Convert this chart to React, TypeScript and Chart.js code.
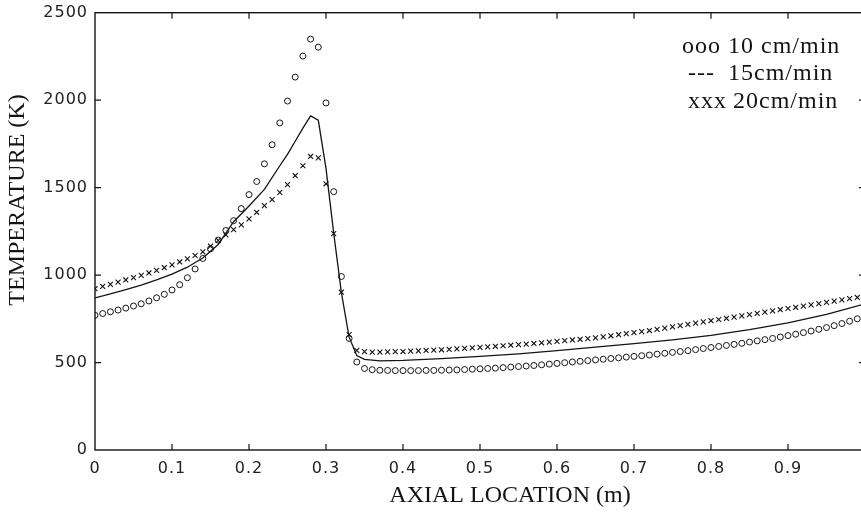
import React, { useEffect, useRef } from "react";
import { Chart, registerables } from "chart.js";

Chart.register(...registerables);

// ---- Data ----
const xTickLabels = ["0", "0.1", "0.2", "0.3", "0.4", "0.5", "0.6", "0.7", "0.8", "0.9", ""];
const yTickLabels = ["0", "500", "1000", "1500", "2000", "2500"];

const seriesNames = ["10 cm/min", "15cm/min", "20cm/min"];
const legendSymbols = ["ooo", "---", "xxx"];

// 10 cm/min (circles), x = 0.00 ... 0.99
const x10 = [
  0.0, 0.01, 0.02, 0.03, 0.04, 0.05, 0.06, 0.07, 0.08, 0.09,
  0.1, 0.11, 0.12, 0.13, 0.14, 0.15, 0.16, 0.17, 0.18, 0.19,
  0.2, 0.21, 0.22, 0.23, 0.24, 0.25, 0.26, 0.27, 0.28, 0.29,
  0.3, 0.31, 0.32, 0.33, 0.34, 0.35, 0.36, 0.37, 0.38, 0.39,
  0.4, 0.41, 0.42, 0.43, 0.44, 0.45, 0.46, 0.47, 0.48, 0.49,
  0.5, 0.51, 0.52, 0.53, 0.54, 0.55, 0.56, 0.57, 0.58, 0.59,
  0.6, 0.61, 0.62, 0.63, 0.64, 0.65, 0.66, 0.67, 0.68, 0.69,
  0.7, 0.71, 0.72, 0.73, 0.74, 0.75, 0.76, 0.77, 0.78, 0.79,
  0.8, 0.81, 0.82, 0.83, 0.84, 0.85, 0.86, 0.87, 0.88, 0.89,
  0.9, 0.91, 0.92, 0.93, 0.94, 0.95, 0.96, 0.97, 0.98, 0.99,
];
const t10 = [
  770, 780, 790, 800, 811, 823, 836, 852, 870, 890,
  915, 945, 985, 1035, 1095, 1150, 1200, 1255, 1311, 1380,
  1460, 1535, 1636, 1745, 1870, 1995, 2132, 2252, 2349, 2303,
  1984, 1477, 992, 638, 503, 466, 459, 456, 455, 454,
  454, 454, 454, 455, 455, 456, 457, 458, 460, 462,
  464, 466, 468, 471, 474, 477, 480, 483, 487, 491,
  495, 499, 503, 507, 511, 515, 519, 523, 527, 531,
  535, 539, 543, 548, 553, 558, 563, 568, 574, 580,
  586, 592, 598, 604, 610, 617, 624, 631, 638, 646,
  654, 662, 671, 680, 690, 700, 711, 723, 736, 750,
];

// 15 cm/min (solid line)
const x15 = [
  0.0, 0.02, 0.04, 0.06, 0.08, 0.1, 0.12, 0.14, 0.16, 0.18,
  0.2, 0.22, 0.24, 0.25, 0.26, 0.27, 0.28, 0.29, 0.3, 0.31,
  0.32, 0.33, 0.34, 0.35, 0.37, 0.4, 0.45, 0.5, 0.55, 0.6,
  0.65, 0.7, 0.75, 0.8, 0.85, 0.9, 0.95, 1.0,
];
const t15 = [
  870, 893, 917, 943, 972, 1005, 1045, 1098, 1175, 1305,
  1395, 1490, 1625, 1690, 1765, 1840, 1910, 1885, 1610, 1240,
  900, 645, 540, 518, 510, 512, 522, 535, 550, 568,
  588, 608, 630, 655, 688, 727, 775, 835,
];

// 20 cm/min (crosses), x = 0.00 ... 0.99
const x20 = x10;
const t20 = [
  922, 935, 947, 960, 972, 985, 998, 1012, 1027, 1042,
  1058, 1075, 1093, 1112, 1133, 1165, 1198, 1230, 1260, 1287,
  1321, 1359, 1397, 1431, 1473, 1517, 1568, 1625, 1678, 1670,
  1522, 1237, 902, 660, 570, 562, 560, 560, 561, 562,
  563, 565, 567, 569, 571, 573, 575, 578, 581, 584,
  587, 590, 593, 596, 599, 602, 605, 609, 613, 617,
  621, 625, 629, 633, 637, 641, 647, 653, 659, 665,
  671, 677, 683, 690, 697, 704, 711, 718, 725, 732,
  739, 746, 753, 760, 767, 774, 781, 788, 795, 802,
  809, 816, 823, 830, 837, 844, 851, 858, 865, 872,
];

const xTitle = "AXIAL LOCATION (m)";
const yTitle = "TEMPERATURE (K)";

const toPoints = (xs: number[], ys: number[]) => xs.map((x, i) => ({ x, y: ys[i] }));

const INK = "#141414";

const decorPlugin = {
  id: "decor",
  beforeDraw(chart: any) {
    // slightly wider tick lettering, like the reference
    (chart.ctx as any).letterSpacing = "1px";
  },
  afterDraw(chart: any) {
    const { ctx, chartArea: a, scales } = chart;
    const xs = scales.x;
    const ys = scales.y;
    ctx.save();
    (ctx as any).letterSpacing = "0px";
    ctx.strokeStyle = INK;
    ctx.lineWidth = 1.4;
    ctx.strokeRect(a.left, a.top, a.right - a.left, a.bottom - a.top);
    ctx.lineWidth = 1.2;
    const tl = 6;
    ctx.beginPath();
    xs.ticks.forEach((t: any) => {
      if (t.value <= 0 || t.value >= 1) return;
      const px = xs.getPixelForValue(t.value);
      ctx.moveTo(px, a.bottom);
      ctx.lineTo(px, a.bottom - tl);
      ctx.moveTo(px, a.top);
      ctx.lineTo(px, a.top + tl);
    });
    ys.ticks.forEach((t: any) => {
      if (t.value <= 0 || t.value >= 2500) return;
      const py = ys.getPixelForValue(t.value);
      ctx.moveTo(a.left, py);
      ctx.lineTo(a.left + tl, py);
      ctx.moveTo(a.right, py);
      ctx.lineTo(a.right - tl, py);
    });
    ctx.stroke();

    // axis titles
    ctx.fillStyle = INK;
    ctx.font = '24px "Liberation Serif", "Times New Roman", serif';
    ctx.textAlign = "center";
    ctx.textBaseline = "middle";
    ctx.fillText(xTitle, 510, 496);
    ctx.save();
    ctx.translate(18, 200);
    ctx.rotate(-Math.PI / 2);
    ctx.fillText(yTitle, 0, 0);
    ctx.restore();

    // legend text block
    ctx.textAlign = "left";
    (ctx as any).letterSpacing = "1px";
    const symX = [682, 688, 688];
    const labX = [728, 728, 733];
    const rowY = [47, 74, 102];
    legendSymbols.forEach((s, i) => {
      ctx.fillText(s, symX[i], rowY[i]);
      ctx.fillText(seriesNames[i], labX[i], rowY[i]);
    });
    ctx.restore();
  },
};

export default function App() {
  const canvasRef = useRef<HTMLCanvasElement | null>(null);

  useEffect(() => {
    const canvas = canvasRef.current;
    if (!canvas) return;
    const chart = new Chart(canvas, {
      type: "scatter",
      data: {
        datasets: [
          {
            label: seriesNames[0],
            data: toPoints(x10, t10),
            showLine: false,
            pointStyle: "circle",
            pointRadius: 3,
            borderWidth: 1,
            borderColor: INK,
            backgroundColor: "rgba(255,255,255,0)",
          },
          {
            label: seriesNames[1],
            data: toPoints(x15, t15),
            showLine: true,
            pointRadius: 0,
            borderWidth: 1.3,
            borderColor: INK,
            backgroundColor: INK,
            tension: 0,
          },
          {
            label: seriesNames[2],
            data: toPoints(x20, t20),
            showLine: false,
            pointStyle: "crossRot",
            pointRadius: 3.5,
            borderWidth: 1.1,
            borderColor: INK,
            backgroundColor: INK,
          },
        ],
      },
      options: {
        animation: false,
        responsive: false,
        devicePixelRatio: 1,
        layout: { padding: { top: 12.7, right: 0, left: 0, bottom: 0 } },
        plugins: {
          legend: { display: false },
          tooltip: { enabled: false },
        },
        scales: {
          x: {
            type: "linear",
            min: 0,
            max: 1,
            grid: { display: false, drawTicks: false },
            border: { display: false },
            ticks: {
              stepSize: 0.1,
              padding: 9,
              color: "#222",
              font: { family: '"DejaVu Sans", sans-serif', size: 16 },
              maxRotation: 0,
              autoSkip: false,
              callback: (_v: any, i: number) => xTickLabels[i] ?? "",
            },
            afterFit: (s: any) => {
              s.height = 62;
            },
          },
          y: {
            type: "linear",
            min: 0,
            max: 2500,
            grid: { display: false, drawTicks: false },
            border: { display: false },
            ticks: {
              stepSize: 500,
              padding: 7,
              color: "#222",
              font: { family: '"DejaVu Sans", sans-serif', size: 16, lineHeight: 0.7 },
              autoSkip: false,
              callback: (_v: any, i: number) => yTickLabels[i] ?? "",
            },
            afterFit: (s: any) => {
              s.width = 95;
            },
          },
        },
      },
      plugins: [decorPlugin],
    });
    return () => chart.destroy();
  }, []);

  return (
    <div
      style={{
        position: "absolute",
        left: 0,
        top: 0,
        width: 861,
        height: 512,
        overflow: "hidden",
        background: "#fff",
      }}
    >
      <canvas ref={canvasRef} width={874} height={512} style={{ display: "block" }} />
    </div>
  );
}
